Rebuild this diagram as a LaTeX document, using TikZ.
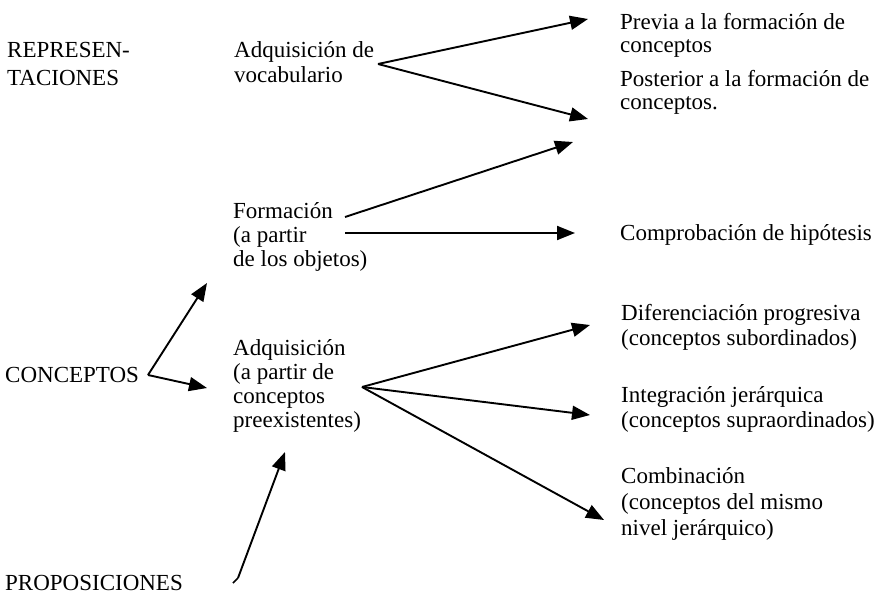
\documentclass[tikz,border=0pt]{standalone}
\usepackage{fontspec}
\setmainfont{Liberation Serif}
\usetikzlibrary{arrows.meta}
\newcommand{\mlines}[1]{\begin{tabular}[t]{@{}l@{}}#1\end{tabular}}
\begin{document}
\begin{tikzpicture}[x=1pt,y=-1pt,
  lbl/.style={anchor=base west,inner sep=0pt,font=\fontsize{23}{25}\selectfont},
  conn/.style={line width=1.9pt,-{Triangle[length=18pt,width=14pt]}},
  plainline/.style={line width=1.6pt}]
\useasboundingbox (0,0) rectangle (878,599);
% texts
\node[lbl] (rep)   at (7,58)    {\mlines{REPRESEN-\\[3pt]TACIONES}};
\node[lbl] (voc)   at (234,58)  {\mlines{Adquisición de\\vocabulario}};
\node[lbl] (prev)  at (620,30)  {\mlines{Previa a la formación de\\[-2pt]conceptos}};
\node[lbl] (post)  at (620,87)  {\mlines{Posterior a la formación de\\[-2pt]conceptos.}};
\node[lbl] (form)  at (233,218) {\mlines{Formación\\[-1pt](a partir\\[-1pt]de los objetos)}};
\node[lbl] (comp)  at (620,240) {Comprobación de hipótesis};
\node[lbl] (conc)  at (5,382)   {CONCEPTOS};
\node[lbl] (adq)   at (233,355) {\mlines{Adquisición\\[-1pt](a partir de\\[-1pt]conceptos\\[-1pt]preexistentes)}};
\node[lbl] (dif)   at (621,320) {\mlines{Diferenciación progresiva\\(conceptos subordinados)}};
\node[lbl] (integ) at (621,402) {\mlines{Integración jerárquica\\(conceptos supraordinados)}};
\node[lbl] (comb)  at (621,483) {\mlines{Combinación\\[1pt](conceptos del mismo\\[1pt]nivel jerárquico)}};
\node[lbl] (prop)  at (5,590)   {PROPOSICIONES};
% connector points
\coordinate (vocV)   at (378,64);
\coordinate (prevT)  at (588,19);
\coordinate (postT)  at (588,119);
\coordinate (formS1) at (345,217);
\coordinate (formT1) at (573,142);
\coordinate (formS2) at (345,233);
\coordinate (compT)  at (575,233);
\coordinate (concV)  at (148,375);
\coordinate (formIn) at (207,283);
\coordinate (adqIn)  at (207,388);
\coordinate (adqV)   at (362,387);
\coordinate (difT)   at (590,325);
\coordinate (intT)   at (590,415);
\coordinate (combT)  at (604,520);
\coordinate (propH)  at (233,583);
\coordinate (propS)  at (238,578);
\coordinate (adqIn2) at (285,452);
% connectors
\draw[conn] (vocV) -- (prevT);
\draw[conn] (vocV) -- (postT);
\draw[conn] (formS1) -- (formT1);
\draw[conn] (formS2) -- (compT);
\draw[conn] (concV) -- (formIn);
\draw[conn] (concV) -- (adqIn);
\draw[conn] (adqV) -- (difT);
\draw[conn] (adqV) -- (intT);
\draw[conn] (adqV) -- (combT);
\draw[plainline] (propH) -- (propS);
\draw[conn] (propS) -- (adqIn2);
\end{tikzpicture}
\end{document}
